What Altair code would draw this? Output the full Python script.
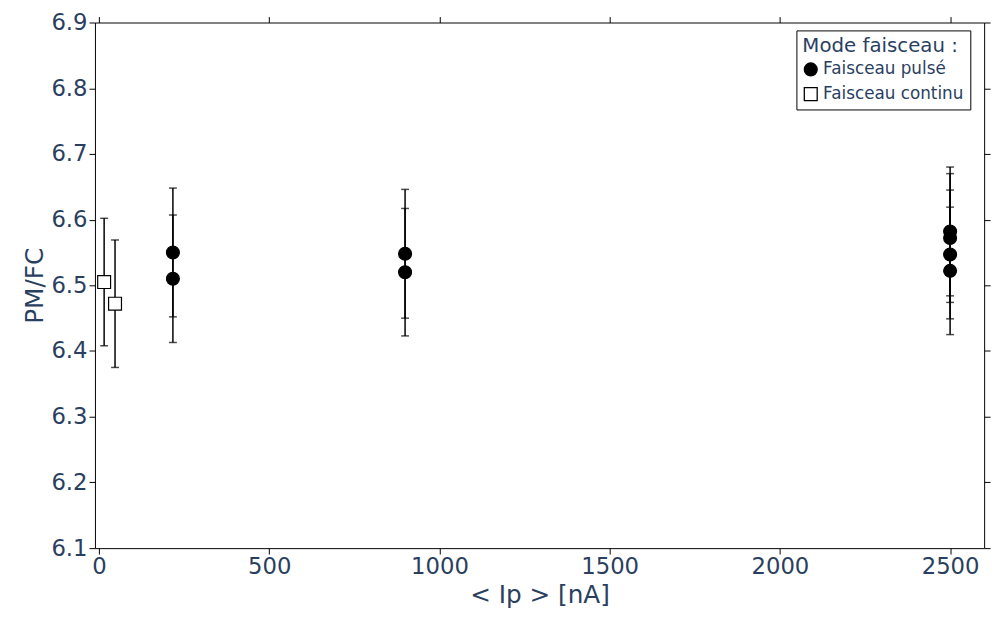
import altair as alt
import pandas as pd

x = [15, 47, 217, 217, 899, 899, 2500, 2500, 2500, 2500]
y = [6.505, 6.472, 6.550, 6.510, 6.548, 6.520, 6.582, 6.572, 6.547, 6.522]
err = [0.097, 0.097, 0.098, 0.097, 0.098, 0.097, 0.098, 0.098, 0.098, 0.097]
mode = ["Faisceau continu"] * 2 + ["Faisceau pulsé"] * 8

df = pd.DataFrame({"x": x, "y": y, "err": err, "mode": mode})
df["lo"] = df.y - df.err
df["hi"] = df.y + df.err

F = "DejaVu Sans"
C = "#2a3f5f"
xs = alt.Scale(domain=[-12, 2600], nice=False, zero=False)
ys = alt.Scale(domain=[6.1, 6.9], nice=False, zero=False)
X = alt.X("x:Q", scale=xs, title="< Ip > [nA]",
          axis=alt.Axis(values=[0, 500, 1000, 1500, 2000, 2500], format="d", grid=False, domainColor="black",
                        tickColor="black", labelFontSize=23, titleFontSize=25, labelColor=C,
                        titleColor=C, labelFont=F, titleFont=F, tickSize=6, titleFontWeight="normal"))
Y = alt.Y("y:Q", scale=ys, title="PM/FC",
          axis=alt.Axis(values=[6.1, 6.2, 6.3, 6.4, 6.5, 6.6, 6.7, 6.8, 6.9], format=".1f", grid=False,
                        domainColor="black", tickColor="black", labelFontSize=23, titleFontSize=25,
                        labelColor=C, titleColor=C, labelFont=F, titleFont=F, tickSize=6,
                        titleFontWeight="normal"))

dom = ["Faisceau pulsé", "Faisceau continu"]
leg = alt.Legend(title="Mode faisceau :", orient="none", legendX=710, legendY=8,
                 strokeColor="black", fillColor="white", padding=6,
                 titleFontSize=20, titleFont=F, titleColor=C, titleFontWeight="normal",
                 labelFontSize=17, labelFont=F, labelColor=C, symbolSize=170,
                 symbolStrokeWidth=1.3, rowPadding=6)

base = alt.Chart(df)
rules = base.mark_rule(color="black", strokeWidth=1.5).encode(x=X, y="lo:Q", y2="hi:Q")
caps_hi = base.mark_tick(color="black", orient="horizontal", size=8, thickness=1.5).encode(x="x:Q", y="hi:Q")
caps_lo = base.mark_tick(color="black", orient="horizontal", size=8, thickness=1.5).encode(x="x:Q", y="lo:Q")
pts = base.mark_point(size=170, strokeWidth=1.2, opacity=1, filled=True).encode(
    x="x:Q", y=Y,
    shape=alt.Shape("mode:N", scale=alt.Scale(domain=dom, range=["circle", "square"]), legend=leg),
    fill=alt.Fill("mode:N", scale=alt.Scale(domain=dom, range=["black", "white"]), legend=leg),
    stroke=alt.Stroke("mode:N", scale=alt.Scale(domain=dom, range=["black", "black"]), legend=leg),
)
top = alt.Chart(df).mark_point(opacity=0).encode(
    x=alt.X("x:Q", scale=xs, axis=alt.Axis(orient="top", labels=False, title=None, grid=False, domainColor="black",
                                           tickColor="black", values=[0, 500, 1000, 1500, 2000, 2500], tickSize=6)),
    y=alt.Y("y:Q", scale=ys, axis=alt.Axis(orient="right", labels=False, title=None, grid=False, domainColor="black",
                                           tickColor="black", values=[6.1, 6.2, 6.3, 6.4, 6.5, 6.6, 6.7, 6.8, 6.9], tickSize=6)))

main = alt.layer(rules, caps_hi, caps_lo, pts)
chart = alt.layer(main, top).resolve_scale(x="independent", y="independent").properties(
    width=900, height=532, padding={"left": 14, "top": 0, "right": 5, "bottom": 5}).configure_view(stroke=None)
chart.save("out.html", embed_options={"renderer": "svg", "actions": False})
